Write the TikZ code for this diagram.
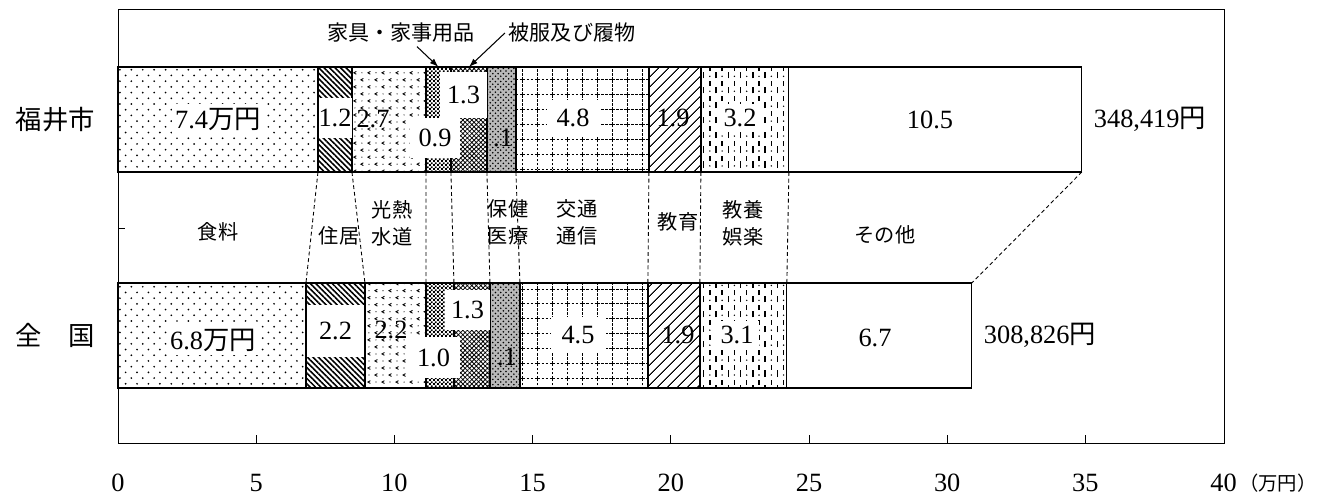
\documentclass[tikz,border=0pt]{standalone}
\usepackage{fontspec}
\setmainfont{Liberation Serif}
\newfontfamily\jp{Noto Sans CJK JP}
\usetikzlibrary{positioning, calc, patterns, patterns.meta, arrows.meta}

% fill patterns of the bar segments
\pgfdeclarepatternformonly{sparsedots}{\pgfqpoint{-1pt}{-1pt}}{\pgfqpoint{7.5pt}{7.5pt}}{\pgfqpoint{6.5pt}{6.5pt}}{%
  \pgfpathcircle{\pgfqpoint{0pt}{0pt}}{0.55pt}%
  \pgfpathcircle{\pgfqpoint{3.25pt}{3.25pt}}{0.55pt}%
  \pgfusepath{fill}}
\pgfdeclarepatternformonly{chevrons}{\pgfqpoint{-0.5pt}{-0.5pt}}{\pgfqpoint{8.5pt}{8.5pt}}{\pgfqpoint{8pt}{8pt}}{%
  \pgfsetlinewidth{0.5pt}%
  \pgfpathmoveto{\pgfqpoint{2.8pt}{2.8pt}}\pgfpathlineto{\pgfqpoint{1.4pt}{2pt}}\pgfpathlineto{\pgfqpoint{2.8pt}{1.2pt}}%
  \pgfpathmoveto{\pgfqpoint{6.8pt}{6.8pt}}\pgfpathlineto{\pgfqpoint{5.4pt}{6pt}}\pgfpathlineto{\pgfqpoint{6.8pt}{5.2pt}}%
  \pgfusepath{stroke}%
  \pgfpathcircle{\pgfqpoint{6pt}{2pt}}{0.35pt}\pgfpathcircle{\pgfqpoint{2pt}{6pt}}{0.35pt}%
  \pgfusepath{fill}}
\pgfdeclarepatternformonly{finechecks}{\pgfqpoint{0pt}{0pt}}{\pgfqpoint{2.4pt}{2.4pt}}{\pgfqpoint{2.4pt}{2.4pt}}{%
  \pgfpathrectangle{\pgfqpoint{0pt}{0pt}}{\pgfqpoint{1.2pt}{1.2pt}}%
  \pgfpathrectangle{\pgfqpoint{1.2pt}{1.2pt}}{\pgfqpoint{1.2pt}{1.2pt}}%
  \pgfusepath{fill}}
\pgfdeclarepatternformonly{dashgrid}{\pgfqpoint{-0.5pt}{-0.5pt}}{\pgfqpoint{9pt}{9pt}}{\pgfqpoint{8.5pt}{8.5pt}}{%
  \pgfsetlinewidth{0.45pt}%
  \pgfsetdash{{1.5pt}{0.8pt}}{0pt}%
  \pgfpathmoveto{\pgfqpoint{0pt}{0pt}}\pgfpathlineto{\pgfqpoint{8.5pt}{0pt}}%
  \pgfpathmoveto{\pgfqpoint{0pt}{0pt}}\pgfpathlineto{\pgfqpoint{0pt}{8.5pt}}%
  \pgfusepath{stroke}}
\pgfdeclarepatternformonly{vdashes}{\pgfqpoint{-0.5pt}{-0.5pt}}{\pgfqpoint{7.5pt}{9pt}}{\pgfqpoint{7pt}{8.5pt}}{%
  \pgfsetlinewidth{0.8pt}%
  \pgfpathmoveto{\pgfqpoint{1.5pt}{0.8pt}}\pgfpathlineto{\pgfqpoint{1.5pt}{4.6pt}}%
  \pgfpathmoveto{\pgfqpoint{5pt}{5pt}}\pgfpathlineto{\pgfqpoint{5pt}{7.8pt}}%
  \pgfusepath{stroke}%
  \pgfpathcircle{\pgfqpoint{5pt}{2pt}}{0.45pt}%
  \pgfusepath{fill}}

\begin{document}
\begin{tikzpicture}[x=0.02cm, y=-0.02cm, >={Latex[length=5pt,width=3.5pt]}]

\tikzstyle{seg}=[draw, line width=0.7pt, minimum height=2.1cm, inner sep=0pt, outer sep=0pt]
\tikzstyle{val}=[font=\fontsize{15}{18}\selectfont, inner sep=1pt]
\tikzstyle{valbox}=[val, fill=white]
\tikzstyle{cat}=[font=\jp\fontsize{11.5}{15.5}\selectfont, align=center, inner sep=0pt]
\tikzstyle{toplbl}=[font=\jp\fontsize{12}{14}\selectfont, inner sep=2pt]
\tikzstyle{rowlbl}=[font=\jp\fontsize{15}{18}\selectfont]
\tikzstyle{axlbl}=[font=\fontsize{15}{18}\selectfont, inner sep=1pt]
\tikzstyle{conn}=[line width=0.5pt, dash pattern=on 2.2pt off 1.6pt]

\useasboundingbox (0,0) rectangle (1338,498);

% FRAME
\draw[line width=0.5pt] (118,9) rectangle (1224,443);
\foreach \v in {5,10,...,35} \draw[line width=0.5pt] ({118+27.64*\v},443) -- ++(0,-8);
\draw[line width=0.5pt] (118,228) -- ++(7,0);

% BARS
% Fukui
\node[seg, anchor=north west, minimum width=4cm, pattern=sparsedots] (fk-food) at (118,67) {};
\node[seg, right=0pt of fk-food, minimum width=0.68cm, pattern={Lines[angle=-45,distance=2.2pt,line width=0.9pt]}] (fk-housing) {};
\node[seg, right=0pt of fk-housing, minimum width=1.48cm, pattern=chevrons] (fk-util) {};
\node[seg, right=0pt of fk-util, minimum width=0.50cm, pattern=finechecks] (fk-furn) {};
\node[seg, right=0pt of fk-furn, minimum width=0.72cm, pattern={Hatch[distance=1.8pt,angle=45,line width=0.45pt]}] (fk-cloth) {};
\node[seg, right=0pt of fk-cloth, minimum width=0.58cm, fill=gray!55, postaction={pattern=crosshatch dots}] (fk-health) {};
\node[seg, right=0pt of fk-health, minimum width=2.66cm, pattern=dashgrid] (fk-trans) {};
\node[seg, right=0pt of fk-trans, minimum width=1.04cm, pattern={Lines[angle=45,distance=4pt,line width=0.6pt]}] (fk-edu) {};
\node[seg, right=0pt of fk-edu, minimum width=1.76cm, pattern=vdashes] (fk-cult) {};
\node[seg, right=0pt of fk-cult, minimum width=5.86cm, fill=white] (fk-other) {};

% National
\node[seg, anchor=north west, minimum width=3.76cm, pattern=sparsedots] (nt-food) at (118,283) {};
\node[seg, right=0pt of nt-food, minimum width=1.18cm, pattern={Lines[angle=-45,distance=2.2pt,line width=0.9pt]}] (nt-housing) {};
\node[seg, right=0pt of nt-housing, minimum width=1.22cm, pattern=chevrons] (nt-util) {};
\node[seg, right=0pt of nt-util, minimum width=0.56cm, pattern=finechecks] (nt-furn) {};
\node[seg, right=0pt of nt-furn, minimum width=0.72cm, pattern={Hatch[distance=1.8pt,angle=45,line width=0.45pt]}] (nt-cloth) {};
\node[seg, right=0pt of nt-cloth, minimum width=0.60cm, fill=gray!55, postaction={pattern=crosshatch dots}] (nt-health) {};
\node[seg, right=0pt of nt-health, minimum width=2.56cm, pattern=dashgrid] (nt-trans) {};
\node[seg, right=0pt of nt-trans, minimum width=1.04cm, pattern={Lines[angle=45,distance=4pt,line width=0.6pt]}] (nt-edu) {};
\node[seg, right=0pt of nt-edu, minimum width=1.74cm, pattern=vdashes] (nt-cult) {};
\node[seg, right=0pt of nt-cult, minimum width=3.70cm, fill=white] (nt-other) {};

% VALUES
\node[valbox, inner sep=2pt] (fk-v-food) at (218,119) {7.4{\jp 万円}};
\node[valbox, minimum width=0.66cm, minimum height=0.8cm, inner xsep=0pt] (fk-v-housing) at (335,118) {1.2};
\node[val] (fk-v-util) at (373,119) {2.7};
\node[valbox, minimum width=0.94cm, minimum height=0.92cm] (fk-v-cloth) at (463.5,95) {1.3};
\node[valbox, minimum width=1cm, minimum height=0.8cm] (fk-v-furn) at (435,138) {0.9};
\node[val] (fk-v-health) at (503,138) {.1};
\node[valbox, minimum width=1.06cm, minimum height=0.74cm] (fk-v-trans) at (573,118) {4.8};
\node[val] (fk-v-edu) at (673,118) {1.9};
\node[valbox, inner sep=3pt] (fk-v-cult) at (740,118) {3.2};
\node[val] (fk-v-other) at (930,120) {10.5};
\node[val, right=0.2cm of fk-other] (fk-total) {348,419{\jp 円}};

\node[valbox, inner sep=2pt] (nt-v-food) at (213,340) {6.8{\jp 万円}};
\node[valbox, minimum width=1.16cm, minimum height=1.04cm] (nt-v-housing) at (335.5,331) {2.2};
\node[val] (nt-v-util) at (391,330) {2.2};
\node[valbox, minimum width=0.9cm, minimum height=0.8cm] (nt-v-cloth) at (467.5,310) {1.3};
\node[valbox, minimum width=1.06cm, minimum height=0.82cm] (nt-v-furn) at (433.5,357.5) {1.0};
\node[val] (nt-v-health) at (507,357) {.1};
\node[valbox, minimum width=1.1cm, minimum height=0.72cm] (nt-v-trans) at (578,335) {4.5};
\node[val] (nt-v-edu) at (678,335) {1.9};
\node[valbox, inner sep=3pt] (nt-v-cult) at (737,335) {3.1};
\node[val] (nt-v-other) at (875,338) {6.7};
\node[val, right=0.2cm of nt-other] (nt-total) {308,826{\jp 円}};

% ARROWS
\foreach \s in {food,housing,util,furn,cloth,health,trans,edu,cult,other}
  \draw[conn] (fk-\s.south east) -- (nt-\s.north east);

% CATEGORIES
\node[cat] (c-food) at (218,232) {食料};
\node[cat] (c-housing) at (339,236) {住居};
\node[cat] (c-util) at (392,223.5) {光熱\\水道};
\node[cat] (c-health) at (508,222) {保健\\医療};
\node[cat] (c-trans) at (577,222) {交通\\通信};
\node[cat] (c-edu) at (678,222) {教育};
\node[cat] (c-cult) at (743,223.5) {教養\\娯楽};
\node[cat] (c-other) at (885,235) {その他};

\node[toplbl] (furn-lbl) at (401,33) {家具・家事用品};
\node[toplbl] (cloth-lbl) at (572,33) {被服及び履物};
\draw[->, line width=0.6pt] ($(furn-lbl.south)+(16,0)$) -- (fk-furn.north);
\draw[->, line width=0.6pt] (cloth-lbl.west) -- (fk-cloth.north);

% ROWS AND AXIS
\node[rowlbl, left=0.34cm of fk-food] (r-fukui) {福井市};
\node[rowlbl, left=0.34cm of nt-food] (r-nation) {全　国};

\foreach \v in {0,5,...,40} \node[axlbl] (ax-\v) at ({118+27.64*\v},483) {\v};
\node[font=\jp\fontsize{11}{13}\selectfont, inner sep=0pt, anchor=west] (unit) at (ax-40.east) {（万円）};

\end{tikzpicture}
\end{document}
